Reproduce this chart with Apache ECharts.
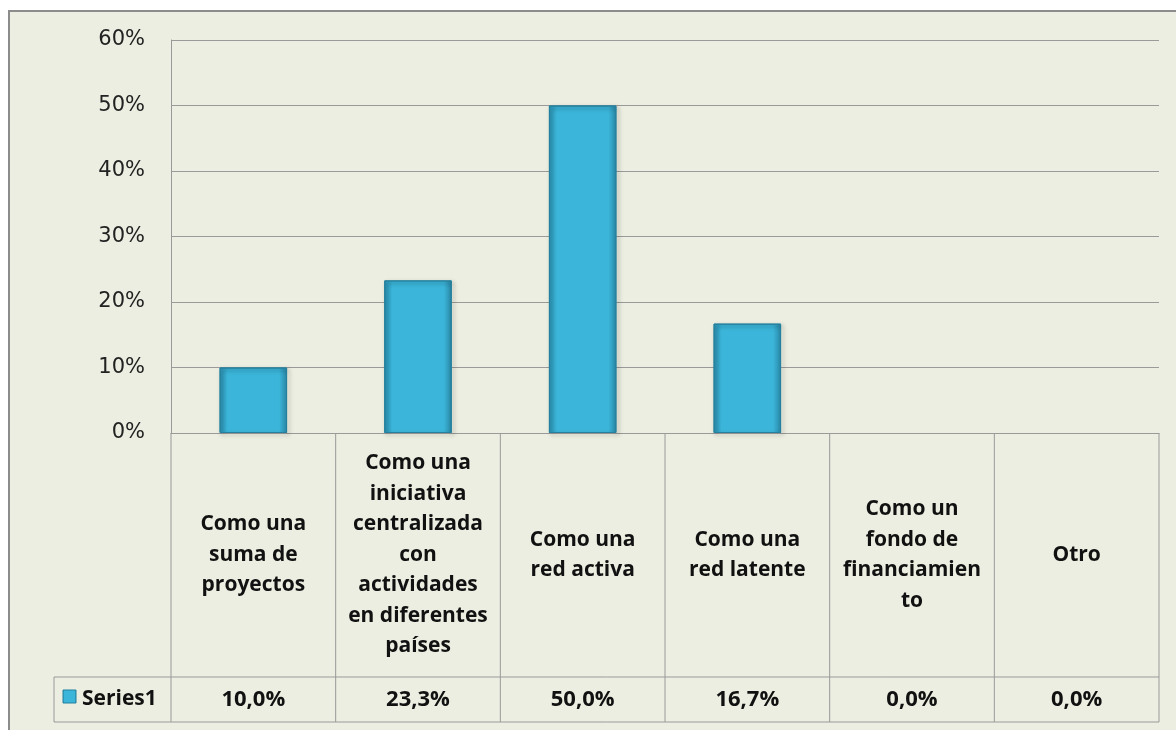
<!DOCTYPE html>
<html>
<head>
<meta charset="utf-8">
<script src="https://cdn.jsdelivr.net/npm/echarts@6/dist/echarts.min.js"></script>
<style>
  html, body { margin: 0; padding: 0; background: #fff; }
  #main { width: 1176px; height: 730px; }
</style>
</head>
<body>
<div id="main"></div>
<script>
// data
var categories = [
  'Como una\nsuma de\nproyectos',
  'Como una\niniciativa\ncentralizada\ncon\nactividades\nen diferentes\npaíses',
  'Como una\nred activa',
  'Como una\nred latente',
  'Como un\nfondo de\nfinanciamien\nto',
  'Otro'
]
var values = [0.100, 0.233, 0.500, 0.167, 0.000, 0.000]
var seriesName = 'Series1'
var yMin = 0
var yMax = 0.6
var yStep = 0.1

var bg = '#ebeee0'
var lineColor = '#9a9a9a'
var cellFont = '"Open Sans", Lato, sans-serif'

var barFill = new echarts.graphic.LinearGradient(0, 0, 1, 0, [
  { offset: 0, color: '#2c93b4' },
  { offset: 0.12, color: '#3bb6da' },
  { offset: 0.88, color: '#3bb6da' },
  { offset: 1, color: '#2a87a6' }
])

var chartDom = document.getElementById('main')
var myChart = echarts.init(chartDom)

function pct1 (v) {
  return (v * 100).toFixed(1).replace('.', ',') + '%'
}

// zero values get no visible bar (like the original)
var barData = values.map(function (v) {
  return v === 0 ? { value: v, itemStyle: { opacity: 0 } } : v
})

var option = {
  backgroundColor: '#fff',
  animation: false,
  grid: { left: 171, right: 17, top: 40, bottom: 297 },
  xAxis: {
    type: 'category',
    data: categories,
    axisLine: { lineStyle: { color: lineColor, width: 1 } },
    axisTick: { show: false },
    axisLabel: {
      interval: 0,
      margin: 122,
      verticalAlign: 'middle',
      align: 'center',
      color: '#111',
      fontFamily: cellFont,
      fontWeight: 'bold',
      fontSize: 21,
      lineHeight: 30.5
    }
  },
  yAxis: {
    type: 'value',
    min: yMin,
    max: yMax,
    interval: yStep,
    axisLine: { show: true, lineStyle: { color: lineColor, width: 1 } },
    axisTick: { show: false },
    splitLine: { lineStyle: { color: lineColor, width: 1 } },
    axisLabel: {
      margin: 26,
      color: '#222',
      fontFamily: '"DejaVu Sans", sans-serif',
      fontSize: 21,
      formatter: function (v) { return Math.round(v * 100) + '%' }
    }
  },
  series: [
    {
      name: seriesName,
      type: 'bar',
      data: barData,
      barWidth: '41%',
      itemStyle: {
        color: barFill,
        borderColor: '#24809e',
        borderWidth: 1,
        shadowBlur: 4,
        shadowOffsetX: 2,
        shadowOffsetY: 2,
        shadowColor: 'rgba(0,0,0,0.35)'
      }
    }
  ]
}
option && myChart.setOption(option)

// data table under the plot, positioned from the chart's own scales
var half = (myChart.convertToPixel({ xAxisIndex: 0 }, 1) - myChart.convertToPixel({ xAxisIndex: 0 }, 0)) / 2
var left = myChart.convertToPixel({ xAxisIndex: 0 }, 0) - half
var right = myChart.convertToPixel({ xAxisIndex: 0 }, categories.length - 1) + half
var yTop = myChart.convertToPixel({ yAxisIndex: 0 }, yMin)
var yMid = 677
var yBot = 722
var legendLeft = 54

var els = []
els.push({
  type: 'rect',
  z: -100,
  shape: { x: 9, y: 11, width: 1300, height: 900 },
  style: { fill: bg, stroke: '#8c8c8c', lineWidth: 2 }
})
function hline (x1, x2, y) {
  els.push({ type: 'line', shape: { x1: x1, y1: y, x2: x2, y2: y }, style: { stroke: lineColor, lineWidth: 1 } })
}
function vline (x, y1, y2) {
  els.push({ type: 'line', shape: { x1: x, y1: y1, x2: x, y2: y2 }, style: { stroke: lineColor, lineWidth: 1 } })
}
hline(legendLeft, right, yMid)
hline(legendLeft, right, yBot)
vline(legendLeft, yMid, yBot)
for (var i = 0; i <= categories.length; i++) {
  vline(left + i * 2 * half, yTop, yBot)
}
for (var j = 0; j < values.length; j++) {
  els.push({
    type: 'text',
    x: myChart.convertToPixel({ xAxisIndex: 0 }, j),
    y: (yMid + yBot) / 2,
    style: {
      text: pct1(values[j]),
      align: 'center',
      verticalAlign: 'middle',
      fill: '#111',
      font: 'bold 22px ' + cellFont
    }
  })
}
els.push({
  type: 'rect',
  shape: { x: 63, y: 690, width: 13, height: 13 },
  style: { fill: barFill, stroke: '#24809e', lineWidth: 1 }
})
els.push({
  type: 'text',
  x: 82,
  y: (yMid + yBot) / 2,
  style: {
    text: seriesName,
    align: 'left',
    verticalAlign: 'middle',
    fill: '#111',
    font: 'bold 21px ' + cellFont
  }
})
myChart.setOption({ graphic: { elements: els } })
</script>
</body>
</html>
